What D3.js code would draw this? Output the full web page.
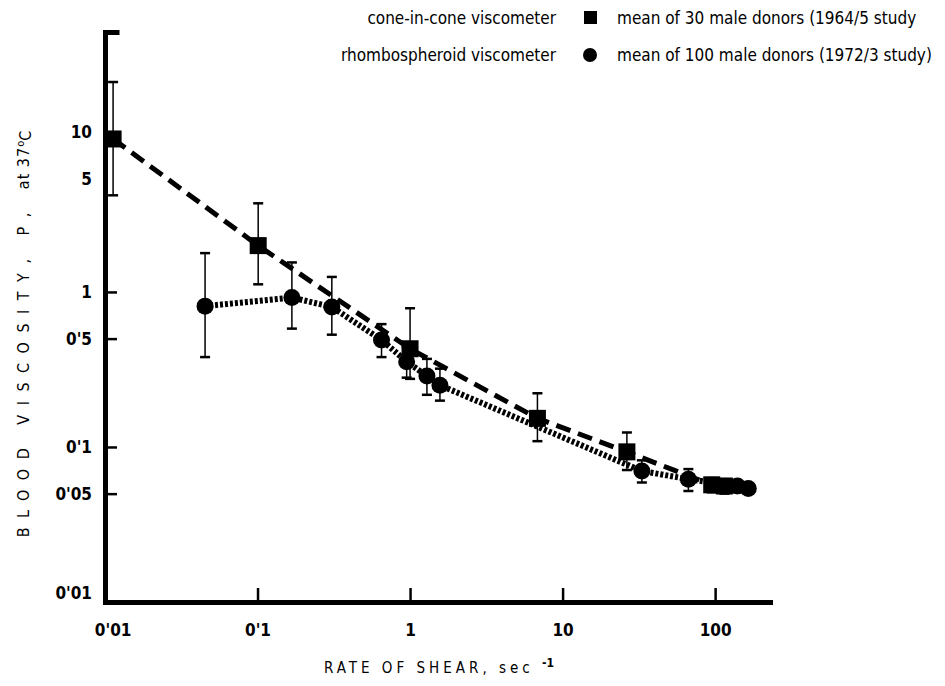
<!DOCTYPE html>
<html>
<head>
<meta charset="utf-8">
<title>Blood viscosity vs rate of shear</title>
<script src="https://d3js.org/d3.v7.min.js"></script>
<style>
  body { margin: 0; background: #fff; }
  svg { display: block; }
  .lbl { font-family: "Liberation Sans Narrow", "DejaVu Sans Condensed", "Liberation Sans", sans-serif; }
</style>
</head>
<body>
<svg id="chart" width="945" height="686"></svg>
<script>
// cone-in-cone viscometer, mean of 30 male donors (1964/5 study)
var coneShear  = [0.0113, 0.101, 1.0, 6.84, 26.4, 95, 115]
var coneVisc   = [9.7, 1.99, 0.43, 0.153, 0.093, 0.057, 0.056]
var coneErrHi  = [22.6, 3.73, 0.785, 0.222, 0.124, 0.063, 0.062]
var coneErrLo  = [4.2, 1.12, 0.275, 0.109, 0.071, 0.051, 0.050]

// rhombospheroid viscometer, mean of 100 male donors (1972/3 study)
var rhomboShear = [0.0453, 0.168, 0.307, 0.65, 0.95, 1.29, 1.57, 33.1, 66.8, 140, 165]
var rhomboVisc  = [0.81, 0.92, 0.80, 0.49, 0.355, 0.287, 0.25, 0.070, 0.062, 0.056, 0.054]
var rhomboErrHi = [1.78, 1.55, 1.25, 0.62, 0.44, 0.37, 0.32, 0.082, 0.072, 0.060, 0.058]
var rhomboErrLo = [0.38, 0.58, 0.53, 0.38, 0.28, 0.217, 0.199, 0.059, 0.052, 0.051, 0.050]

var xTicks = [0.01, 0.1, 1, 10, 100]
var xTickLabels = ["0'01", "0'1", "1", "10", "100"]
var yTicks = [10, 5, 1, 0.5, 0.1, 0.05, 0.01]
var yTickLabels = ["10", "5", "1", "0'5", "0'1", "0'05", "0'01"]

var legendNames = ["cone-in-cone viscometer", "rhombospheroid viscometer"]
var legendTexts = ["mean of 30 male donors (1964/5 study", "mean of 100 male donors (1972/3 study)"]

function toPoints(xs, ys, hi, lo) {
    return xs.map(function (x, i) { return { x: x, y: ys[i], hi: hi[i], lo: lo[i] } })
}
var cone = toPoints(coneShear, coneVisc, coneErrHi, coneErrLo)
var rhombo = toPoints(rhomboShear, rhomboVisc, rhomboErrHi, rhomboErrLo)

var svg = d3.select("#chart")
var x = d3.scaleLog().domain([0.01, 229]).range([105, 770])
var y = d3.scaleLog().domain([0.01, 47.5]).range([602, 32])

var xAxis = svg.append("g").attr("transform", "translate(0," + y(0.01) + ")")
    .call(d3.axisBottom(x).tickValues(xTicks).tickSizeInner(-14).tickSizeOuter(0).tickPadding(22)
        .tickFormat(function (d, i) { return xTickLabels[i] }))
var yAxis = svg.append("g").attr("transform", "translate(" + x(0.01) + ",0)")
    .call(d3.axisLeft(y).tickValues(yTicks).tickSizeInner(-12).tickSizeOuter(-12).tickPadding(13)
        .tickFormat(function (d, i) { return yTickLabels[i] }))

svg.selectAll(".domain").attr("stroke", "#000").attr("stroke-width", 5).attr("stroke-linecap", "square")
svg.selectAll(".tick line").attr("stroke", "#000").attr("stroke-width", 2.5)
svg.selectAll(".tick text").attr("class", "lbl").attr("fill", "#000")
    .style("font-size", "17px").style("font-weight", "bold")
yAxis.selectAll(".tick").filter(function (d) { return d == 5 || d == 10 }).select("line").remove()
yAxis.selectAll(".tick").filter(function (d) { return d == 0.01 }).select("text").attr("dy", "-0.2em")
yAxis.selectAll(".tick").filter(function (d) { return d >= 5 }).select("text").attr("dy", "0.05em")
xAxis.selectAll(".tick").filter(function (d) { return d == 0.01 }).select("text").attr("dx", "0.45em")

// connecting lines
var line = d3.line().x(function (d) { return x(d.x) }).y(function (d) { return y(d.y) })
svg.append("path").datum(cone).attr("d", line).attr("fill", "none")
    .attr("stroke", "#000").attr("stroke-width", 5).attr("stroke-dasharray", "15,8")
svg.append("path").datum(rhombo).attr("d", line).attr("fill", "none")
    .attr("stroke", "#000").attr("stroke-width", 6).attr("stroke-dasharray", "3,2")

// error bars
function errorBars(data) {
    var g = svg.append("g").attr("stroke", "#000")
    g.selectAll(null).data(data).enter().append("line")
        .attr("x1", function (d) { return x(d.x) }).attr("x2", function (d) { return x(d.x) })
        .attr("y1", function (d) { return y(d.hi) }).attr("y2", function (d) { return y(d.lo) })
        .attr("stroke-width", 1.5)
    g.selectAll(null).data(data).enter().append("line")
        .attr("x1", function (d) { return x(d.x) - 5 }).attr("x2", function (d) { return x(d.x) + 5 })
        .attr("y1", function (d) { return y(d.hi) }).attr("y2", function (d) { return y(d.hi) })
        .attr("stroke-width", 2.5)
    g.selectAll(null).data(data).enter().append("line")
        .attr("x1", function (d) { return x(d.x) - 5 }).attr("x2", function (d) { return x(d.x) + 5 })
        .attr("y1", function (d) { return y(d.lo) }).attr("y2", function (d) { return y(d.lo) })
        .attr("stroke-width", 2.5)
}
errorBars(cone)
errorBars(rhombo)

svg.append("g").selectAll(null).data(cone).enter().append("rect")
    .attr("x", function (d) { return x(d.x) - 8.5 }).attr("y", function (d) { return y(d.y) - 8.5 })
    .attr("width", 17).attr("height", 17).attr("fill", "#000")
svg.append("g").selectAll(null).data(rhombo).enter().append("circle")
    .attr("cx", function (d) { return x(d.x) }).attr("cy", function (d) { return y(d.y) })
    .attr("r", 8.5).attr("fill", "#000")

// axis titles
var yTitle = svg.append("text").attr("class", "lbl")
    .attr("transform", "translate(29,334) rotate(-90)").attr("text-anchor", "middle")
    .style("font-size", "16px").attr("fill", "#000")
yTitle.append("tspan").style("letter-spacing", "9.5px").text("BLOOD VISCOSITY, P, ")
yTitle.append("tspan").style("letter-spacing", "1px").text("at 37")
yTitle.append("tspan").attr("dy", "-0.45em").style("font-size", "11px").text("o")
yTitle.append("tspan").attr("dy", "0.45em").text("C")

var xTitle = svg.append("text").attr("class", "lbl")
    .attr("x", 439).attr("y", 673).attr("text-anchor", "middle")
    .style("font-size", "15px").attr("fill", "#000")
xTitle.append("tspan").style("letter-spacing", "4px").text("RATE OF  SHEAR, sec ")
xTitle.append("tspan").attr("dy", "-0.5em").style("font-size", "12px").style("font-weight", "bold").text("-1")

// legend
var legend = svg.append("g").attr("class", "lbl").style("font-size", "17px").attr("fill", "#000")
legend.selectAll(null).data(legendNames).enter().append("text")
    .attr("x", 556).attr("y", function (d, i) { return 24 + i * 37 })
    .attr("text-anchor", "end").text(function (d) { return d })
legend.selectAll(null).data(legendTexts).enter().append("text")
    .attr("x", 617).attr("y", function (d, i) { return 24 + i * 37 })
    .text(function (d) { return d })
legend.append("rect").attr("x", 584).attr("y", 11).attr("width", 13).attr("height", 13).attr("fill", "#000")
legend.append("circle").attr("cx", 590).attr("cy", 55).attr("r", 7).attr("fill", "#000")
</script>
</body>
</html>
